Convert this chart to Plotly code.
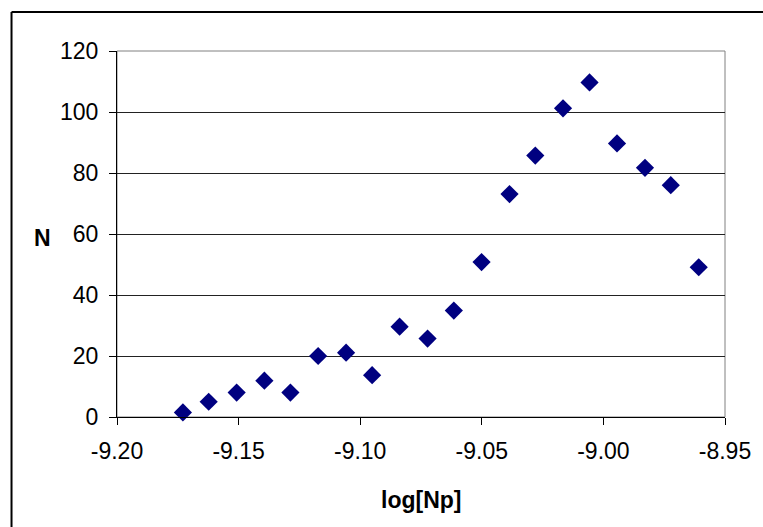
import plotly.graph_objects as go

log_np = [-9.1729, -9.1623, -9.1508, -9.1394, -9.1287, -9.1173, -9.1058, -9.0951,
          -9.0838, -9.0723, -9.0615, -9.0501, -9.0386, -9.0280, -9.0166, -9.0057,
          -8.9944, -8.9829, -8.9723, -8.9608]
n_vals = [1.5, 5.0, 8.0, 11.9, 8.0, 20.0, 21.1, 13.7,
          29.6, 25.7, 34.9, 50.8, 73.1, 85.7, 101.2, 109.7,
          89.7, 81.7, 76.0, 49.1]
x_ticks = [-9.20, -9.15, -9.10, -9.05, -9.00, -8.95]
x_tick_labels = ["-9.20", "-9.15", "-9.10", "-9.05", "-9.00", "-8.95"]
y_ticks = [0, 20, 40, 60, 80, 100, 120]

FONT = "Liberation Sans, Arial, sans-serif"

W, H = 763, 527
L, R, T, B = 117, 728, 51, 417
pw, ph = R - L, B - T

fig = go.Figure()
fig.add_trace(go.Scatter(
    x=log_np, y=n_vals, mode="markers",
    marker=dict(symbol="diamond", size=14, color="#000080",
                line=dict(width=0)),
    showlegend=False, cliponaxis=False,
))

fx0 = (11 - L) / pw
fx1 = (800 - L) / pw
fy_top = (B - 12) / ph
fy_bot = (B - 570) / ph

fig.update_layout(
    width=W, height=H,
    margin=dict(l=L, r=W - R, t=T, b=H - B, pad=0),
    paper_bgcolor="white", plot_bgcolor="white",
    font=dict(family=FONT, size=23, color="black"),
    xaxis=dict(range=[-9.20, -8.95], tickvals=x_ticks, ticktext=x_tick_labels,
               showgrid=False, zeroline=False, showline=True, linecolor="black",
               linewidth=1, ticks="outside", ticklen=7, tickcolor="black",
               tickwidth=1, ticklabelstandoff=6),
    yaxis=dict(range=[0, 120], tickvals=y_ticks, showgrid=True,
               gridcolor="#222222", gridwidth=1, zeroline=False,
               showline=True, linecolor="black", linewidth=1,
               ticks="outside", ticklen=7, tickcolor="black", tickwidth=1,
               ticklabelstandoff=6),
    shapes=[
        # plot area border (gray)
        dict(type="rect", xref="paper", yref="paper", x0=0, y0=0, x1=1, y1=1,
             line=dict(color="#808080", width=1), layer="below"),
        # outer chart frame: left and top edges (right/bottom lie outside the picture)
        dict(type="line", xref="paper", yref="paper",
             x0=fx0, x1=fx0, y0=fy_bot, y1=fy_top,
             line=dict(color="black", width=2)),
        dict(type="line", xref="paper", yref="paper",
             x0=fx0, x1=fx1, y0=fy_top, y1=fy_top,
             line=dict(color="black", width=2)),
    ],
    annotations=[
        dict(text="<b>N</b>", xref="paper", yref="paper",
             x=(42 - L) / pw, y=(B - 238) / ph, showarrow=False,
             font=dict(family=FONT, size=23, color="black"),
             xanchor="center", yanchor="middle"),
        dict(text="<b>log[Np]</b>", xref="paper", yref="paper",
             x=(423 - L) / pw, y=(B - 500) / ph, showarrow=False,
             font=dict(family=FONT, size=23, color="black"),
             xanchor="center", yanchor="middle"),
    ],
)

fig.write_html(
    "out.html",
    config={"displayModeBar": False},
    post_script="document.body.style.margin='0';document.body.style.overflow='hidden';",
)
